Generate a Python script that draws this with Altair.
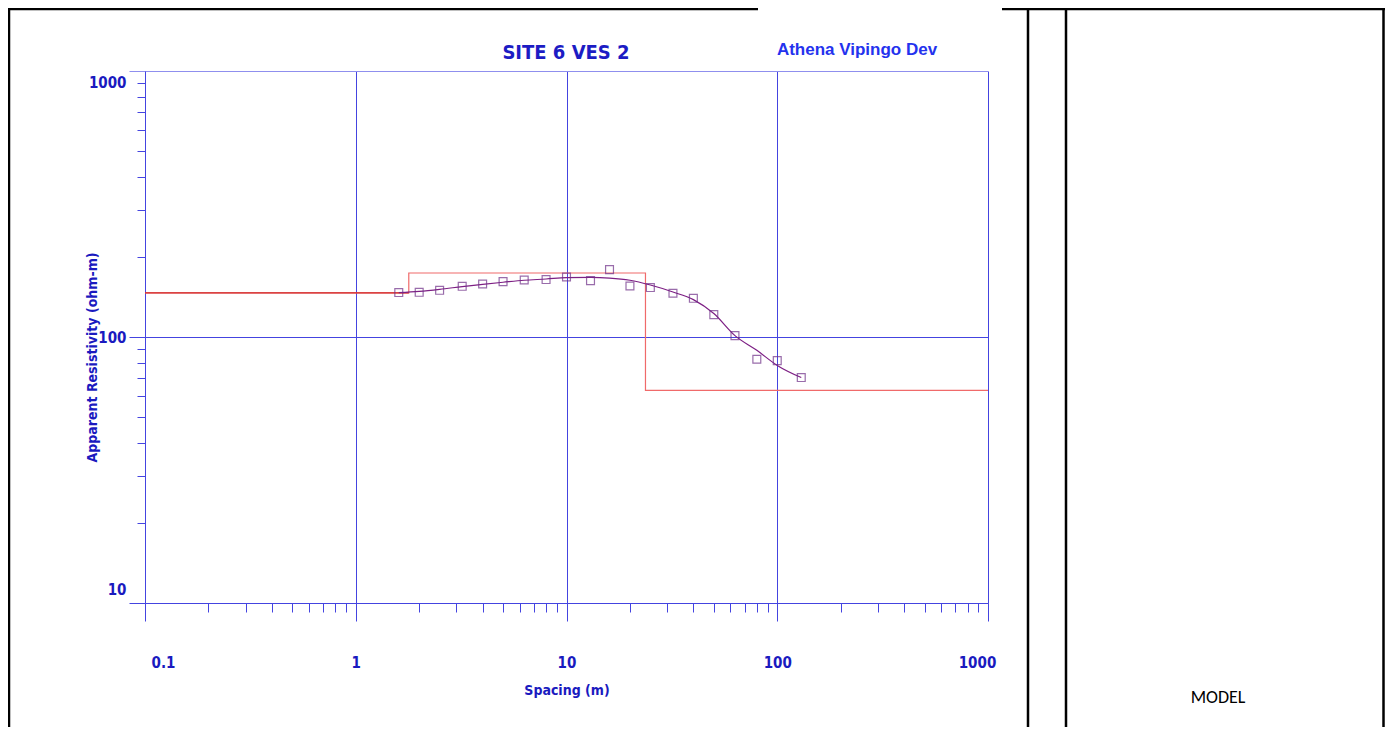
import altair as alt
import pandas as pd

# ---------------- data ----------------
spacing = [1.6, 2, 2.5, 3.2, 4, 5, 6.3, 8, 10, 13, 16, 20, 25, 32, 40, 50, 63, 80, 100, 130]
rho_obs = [146.9, 147.2, 149.8, 155.1, 158.2, 161.5, 163.8, 164.4, 168.1, 162.9,
           179.2, 155.5, 153.4, 146.0, 139.8, 121.4, 101.2, 82.5, 81.5, 70.4]
rho_calc = [146.9, 148.5, 151.1, 154.7, 157.8, 160.6, 163.4, 165.2, 167.2, 167.6,
            166.6, 163.4, 156.8, 147.6, 138.2, 122.5, 101.2, 89.1, 78.2, 70.4]
layer_rho = [146.4, 174.0, 63.0]        # ohm-m
layer_bottom = [1.785, 23.7]            # m
x_domain = [0.1, 1000]
y_domain = [10, 1000]
x_ticks = [0.1, 0.2, 0.3, 0.4, 0.5, 0.6, 0.7, 0.8, 0.9,
           1, 2, 3, 4, 5, 6, 7, 8, 9,
           10, 20, 30, 40, 50, 60, 70, 80, 90,
           100, 200, 300, 400, 500, 600, 700, 800, 900, 1000]
y_ticks = [10, 20, 30, 40, 50, 60, 70, 80, 90,
           100, 200, 300, 400, 500, 600, 700, 800, 900, 1000]
x_major = [0.1, 1, 10, 100, 1000]
y_major = [10, 100, 1000]

# ---------------- tables ----------------
obs = pd.DataFrame({"spacing": spacing, "rho": rho_obs})
calc = pd.DataFrame({"spacing": spacing, "rho": rho_calc})
mx, my = [x_domain[0]], [layer_rho[0]]
for i, d in enumerate(layer_bottom):
    mx += [d, d]
    my += [layer_rho[i], layer_rho[i + 1]]
mx.append(x_domain[1])
my.append(layer_rho[-1])
model = pd.DataFrame({"spacing": mx, "rho": my, "order": list(range(len(mx)))})
model_top = model.iloc[:2]

# ---------------- style ----------------
W, H = 843, 532
BLUE = "#4444e0"
LIGHT = "#8f8fee"
LBL = "#1a1abf"
NARROW = "DejaVu Sans Condensed, sans-serif"

XMAJ = "indexof(%s, datum.value) >= 0" % str(x_major)
YMAJ = "indexof(%s, datum.value) >= 0" % str(y_major)

x_enc = alt.X(
    "spacing:Q",
    scale=alt.Scale(type="log", domain=x_domain, nice=False),
    axis=alt.Axis(
        values=x_ticks, title="Spacing (m)",
        grid=True, gridColor=BLUE, gridWidth=1,
        gridOpacity={"condition": {"test": XMAJ, "value": 1}, "value": 0},
        domainColor=BLUE, domainWidth=1, tickColor=BLUE, tickWidth=1,
        tickSize={"condition": {"test": XMAJ, "value": 18}, "value": 9},
        labelExpr="%s ? format(datum.value, '~g') : ''" % XMAJ,
        labelOverlap=False, labelBound=False, labelFlush=False,
        labelFont=NARROW, labelFontSize=15, labelFontWeight="bold", labelColor=LBL,
        labelPadding=34,
        labelOffset={"condition": [{"test": "datum.value == 0.1", "value": 18},
                                   {"test": "datum.value == 1000", "value": -11}],
                     "value": 0},
        titleFont=NARROW, titleFontSize=14, titleFontWeight="bold", titleColor=LBL,
        titleX=W / 2, titleY=87, titleBaseline="middle", titleAlign="center",
    ),
)
y_enc = alt.Y(
    "rho:Q",
    scale=alt.Scale(type="log", domain=y_domain, nice=False),
    axis=alt.Axis(
        values=y_ticks, title="Apparent Resistivity (ohm-m)",
        grid=True, gridWidth=1,
        gridColor={"condition": {"test": "datum.value == 1000", "value": LIGHT}, "value": BLUE},
        gridOpacity={"condition": {"test": YMAJ, "value": 1}, "value": 0},
        domainColor=BLUE, domainWidth=1, tickWidth=1,
        tickColor={"condition": {"test": "datum.value == 1000", "value": LIGHT}, "value": BLUE},
        tickSize={"condition": {"test": YMAJ, "value": 16}, "value": 8},
        labelExpr="%s ? format(datum.value, '~g') : ''" % YMAJ,
        labelOverlap=False, labelBound=False, labelFlush=False,
        labelFont=NARROW, labelFontSize=15, labelFontWeight="bold", labelColor=LBL,
        labelPadding=3,
        labelOffset={"condition": [{"test": "datum.value == 1000", "value": 11},
                                   {"test": "datum.value == 10", "value": -14}],
                     "value": 0},
        titleFont=NARROW, titleFontSize=14, titleFontWeight="bold", titleColor=LBL,
        titleX=-53, titleY=286, titleBaseline="middle", titleAlign="center",
    ),
)

model_line = alt.Chart(model).mark_line(color="#f06a6a", strokeWidth=1.2).encode(
    x=x_enc, y=y_enc, order="order:Q")
model_first = alt.Chart(model_top).mark_line(color="#d22a2a", strokeWidth=1.2).encode(
    x="spacing:Q", y="rho:Q", order="order:Q")
curve = alt.Chart(calc).mark_line(color="#7d1f84", strokeWidth=1.2, interpolate="monotone").encode(
    x="spacing:Q", y="rho:Q")
points = alt.Chart(obs).mark_point(shape="square", size=62, filled=False,
                                   color="#6f2f88", strokeWidth=1.2).encode(
    x="spacing:Q", y="rho:Q")

one = alt.Data(values=[{}])


def txt(s, x, y, **kw):
    return alt.Chart(one).mark_text(text=s, **kw).encode(x=alt.value(x), y=alt.value(y))


def rule(x, x2, y, y2, w=2.5):
    return alt.Chart(one).mark_rule(color="black", strokeWidth=w).encode(
        x=alt.value(x), x2=alt.value(x2), y=alt.value(y), y2=alt.value(y2))


title = txt("SITE 6 VES 2", 421, -18, font=NARROW, fontSize=20, fontWeight="bold",
            color="#1c1cc4", align="center", baseline="middle")
sub = txt("Athena Vipingo Dev", 712, -21, font="Liberation Sans, Arial, sans-serif",
          fontSize=17, fontWeight="bold", color="#2432ee", align="center", baseline="middle")
model_lbl = txt("MODEL", 1073, 627, font="Carlito, Lato, sans-serif", fontSize=18,
                color="black", align="center", baseline="middle")

frame = [
    rule(-137, 613, -62, -62),
    rule(857, 1240, -62, -62),
    rule(-136, -136, -63, 656),
    rule(883, 883, -63, 656),
    rule(921, 921, -63, 656),
    rule(1238.5, 1238.5, -63, 656),
]

chart = alt.layer(
    model_line, model_first, curve, points, title, sub, model_lbl, *frame
).properties(
    width=W, height=H,
    padding={"left": 137, "top": 63, "right": 397, "bottom": 124},
    autosize=alt.AutoSizeParams(type="none"),
).configure_view(stroke=None)

chart.save("out.html", embed_options={"renderer": "svg", "actions": False})
